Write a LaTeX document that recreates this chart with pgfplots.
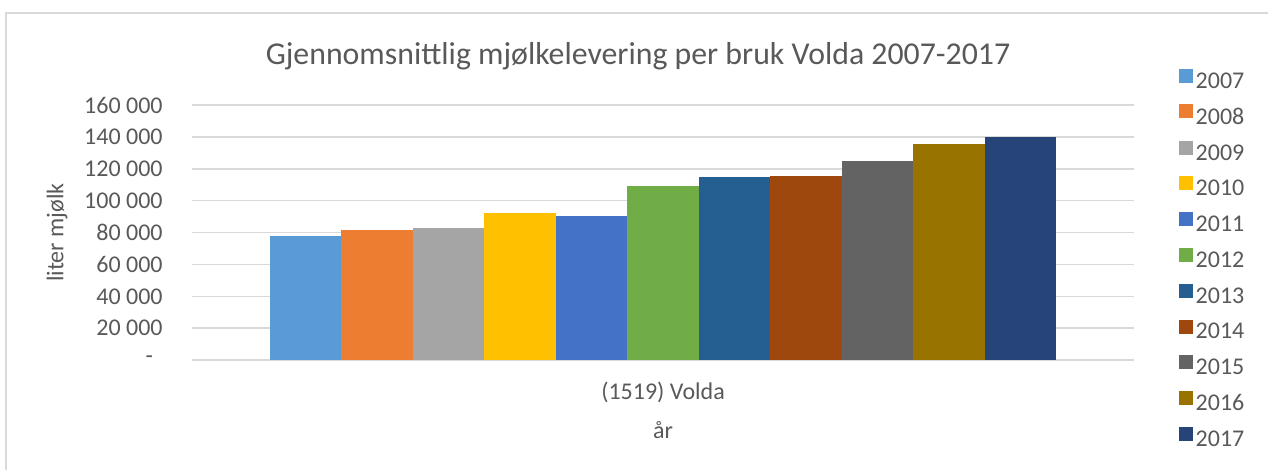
\documentclass[border=0pt]{standalone}
\usepackage{fontspec}
\setmainfont{Carlito}
\usepackage{pgfplots}
\pgfplotsset{compat=1.18}
\definecolor{txt}{HTML}{595959}
\definecolor{gridc}{HTML}{D9D9D9}
\definecolor{c07}{HTML}{5B9BD5}
\definecolor{c08}{HTML}{ED7D31}
\definecolor{c09}{HTML}{A5A5A5}
\definecolor{c10}{HTML}{FFC000}
\definecolor{c11}{HTML}{4472C4}
\definecolor{c12}{HTML}{70AD47}
\definecolor{c13}{HTML}{255E91}
\definecolor{c14}{HTML}{9E480E}
\definecolor{c15}{HTML}{636363}
\definecolor{c16}{HTML}{997300}
\definecolor{c17}{HTML}{264478}

\begin{document}
\begin{tikzpicture}
% frame: 1268 x 470 px at 0.5pt per px
\useasboundingbox (0pt,0pt) rectangle (634pt,235pt);
\draw[gridc, line width=0.75pt] (3pt,0pt) -- (3pt,228.5pt) -- (634pt,228.5pt);
\begin{axis}[
  at={(96pt,55pt)}, anchor=south west,
  scale only axis, width=471pt, height=127.4pt,
  xmin=-6.587, xmax=6.587, ymin=0, ymax=160000,
  font=\fontsize{12}{14}\selectfont,
  /pgf/number format/assume math mode=true,
  scaled y ticks=false,
  axis line style={draw=none},
  major tick length=0pt,
  ymajorgrids, grid style={gridc, line width=0.75pt},
  ytick={0,20000,40000,60000,80000,100000,120000,140000,160000},
  yticklabels={{\makebox[8.5pt][l]{-}},20 000,40 000,60 000,80 000,100 000,120 000,140 000,160 000},
  yticklabel style={anchor=east, inner sep=0pt, xshift=-14.5pt, text=txt},
  xtick={0}, xticklabels={(1519) Volda},
  xticklabel style={anchor=center, inner sep=0pt, yshift=-16pt, text=txt},
  xlabel={år},
  xlabel style={at={(axis description cs:0.5,-0.275)}, anchor=center, inner sep=0pt, text=txt},
  ylabel={liter mjølk},
  ylabel style={at={(axis description cs:-0.1433,0.5)}, anchor=center, inner sep=0pt, rotate=0, text=txt},
  title={Gjennomsnittlig mjølkelevering per bruk Volda 2007-2017},
  title style={at={(axis description cs:0.4735,1.145)}, anchor=center, inner sep=0pt, text=txt, font=\fontsize{15.9}{18}\selectfont},
  legend style={at={(axis description cs:1.0475,1.145)}, anchor=north west, draw=none, fill=none, inner sep=0pt,
    row sep=8.2pt, nodes={inner xsep=1.25pt, inner ysep=0pt, text depth=0pt, text=txt}},
  legend cell align=left,
  legend image code/.code={\fill[#1] (0pt,-1.2pt) rectangle (7pt,5.8pt);},
]
\addplot[ybar, bar width=1, bar shift=-5, fill=c07, draw=none] coordinates {(0,77900)};
\addplot[ybar, bar width=1, bar shift=-4, fill=c08, draw=none] coordinates {(0,81700)};
\addplot[ybar, bar width=1, bar shift=-3, fill=c09, draw=none] coordinates {(0,82900)};
\addplot[ybar, bar width=1, bar shift=-2, fill=c10, draw=none] coordinates {(0,92300)};
\addplot[ybar, bar width=1, bar shift=-1, fill=c11, draw=none] coordinates {(0,90500)};
\addplot[ybar, bar width=1, bar shift=0, fill=c12, draw=none] coordinates {(0,109300)};
\addplot[ybar, bar width=1, bar shift=1, fill=c13, draw=none] coordinates {(0,115000)};
\addplot[ybar, bar width=1, bar shift=2, fill=c14, draw=none] coordinates {(0,115600)};
\addplot[ybar, bar width=1, bar shift=3, fill=c15, draw=none] coordinates {(0,125000)};
\addplot[ybar, bar width=1, bar shift=4, fill=c16, draw=none] coordinates {(0,135700)};
\addplot[ybar, bar width=1, bar shift=5, fill=c17, draw=none] coordinates {(0,139800)};
\legend{2007,2008,2009,2010,2011,2012,2013,2014,2015,2016,2017}
\end{axis}
\end{tikzpicture}
\end{document}
